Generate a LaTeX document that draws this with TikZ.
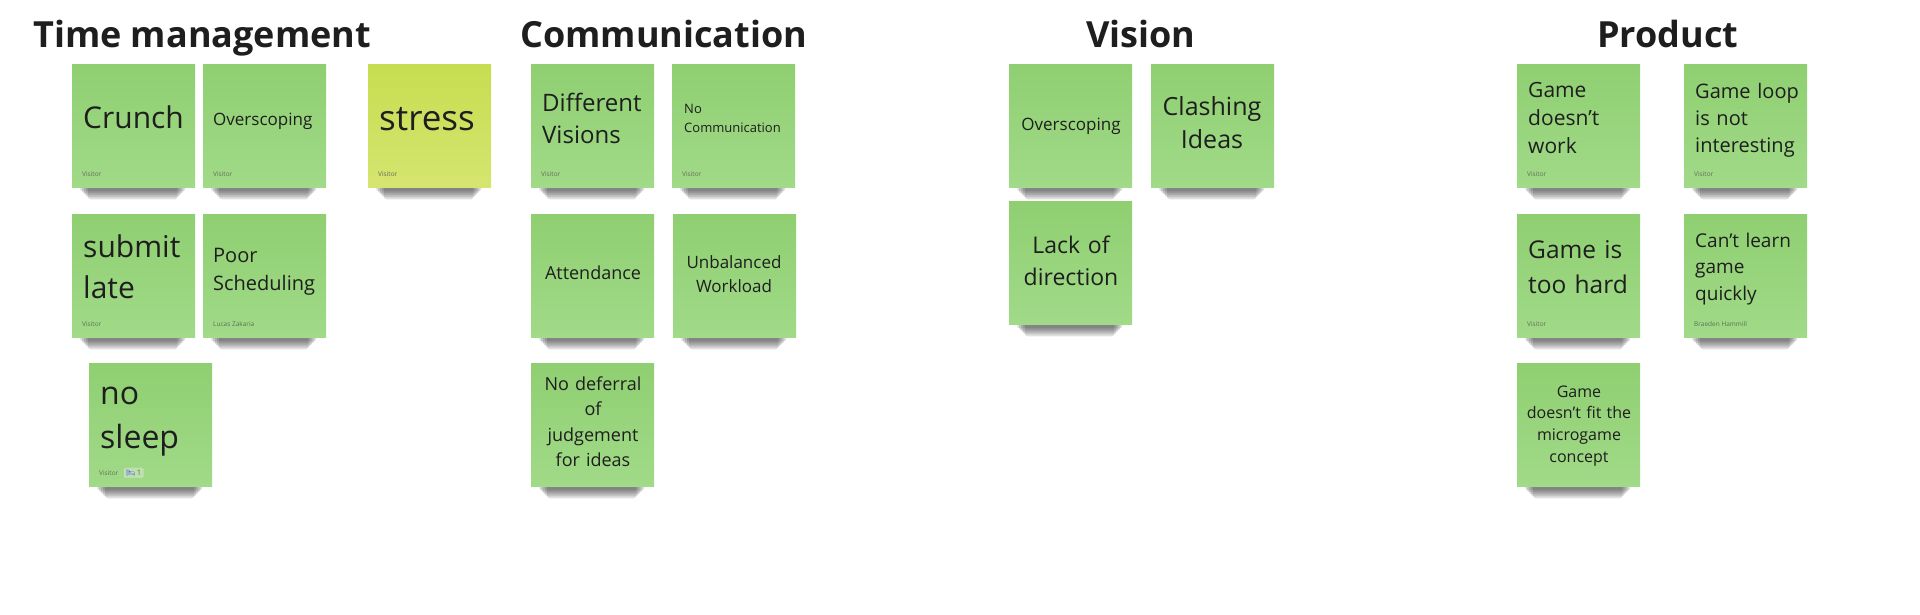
\documentclass[tikz,border=0pt]{standalone}
\usepackage{fontspec}
\setmainfont{Open Sans}
\newfontfamily\emojifont{Noto Emoji}
\usepackage{xcolor}
\usetikzlibrary{backgrounds}
\definecolor{notetop}{RGB}{143,207,113}
\definecolor{notebot}{RGB}{161,218,136}
\definecolor{stresstop}{RGB}{199,221,80}
\definecolor{stressbot}{RGB}{213,229,112}
\definecolor{inkc}{RGB}{30,30,30}
\definecolor{authc}{RGB}{95,110,85}
\newcommand\notefont[2]{\fontsize{#1}{#2}\selectfont}

\begin{document}
\begin{tikzpicture}[x=1pt,y=-1pt,
		note/.style={anchor=north west,minimum width=123pt,minimum height=123pt,inner sep=0pt,top color=notetop,bottom color=notebot},
		yellownote/.style={note,top color=stresstop,bottom color=stressbot},
		title/.style={anchor=base west,inner sep=0pt,font=\bfseries\notefont{36}{44},text=inkc},
		lefttxt/.style={anchor=base west,inner sep=0pt,text width=112pt,align=left,text=inkc},
		midtxt/.style={anchor=base,inner sep=0pt,text width=118pt,align=center,text=inkc},
		author/.style={anchor=base west,inner sep=0pt,font=\notefont{6.5}{8},text=authc}]
		\useasboundingbox (0,0) rectangle (1920,614);
		\node[title] (t-time) at (33,47) {Time management};
		\node[title] (t-comm) at (520,47) {Communication};
		\node[title] (t-vis) at (1086,47) {Vision};
		\node[title] (t-prod) at (1597,47) {Product};
		\foreach \n/\x/\y in {tm-1/72/64,tm-2/203/64,tm-4/72/214,tm-5/203/214,tm-6/89/363,
			co-1/531/64,co-2/672/64,co-3/531/214,co-4/673/214,co-5/531/363,
			vi-1/1009/64,vi-2/1151/64,vi-3/1009/201,
			pr-1/1517/64,pr-2/1684/64,pr-3/1517/214,pr-4/1684/214,pr-5/1517/363}
			\node[note] (\n) at (\x,\y) {};
		\node[yellownote] (tm-3) at (368,64) {};
		\node[lefttxt,font=\notefont{30}{41}] (tx-tm-1) at (83,128) {Crunch};
		\node[lefttxt,font=\notefont{17}{22}] (tx-tm-2) at (213,125) {Overscoping};
		\node[lefttxt,font=\notefont{35}{44}] (tx-tm-3) at (379,130) {stress};
		\node[lefttxt,font=\notefont{30}{41}] (tx-tm-4) at (83,257) {submit\\late};
		\node[lefttxt,font=\notefont{20}{28}] (tx-tm-5) at (213,262) {Poor\\Scheduling};
		\node[lefttxt,font=\notefont{32}{44}] (tx-tm-6) at (100,404) {no\\sleep};
		\node[lefttxt,font=\notefont{24}{32}] (tx-co-1) at (542,111) {Different\\Visions};
		\node[lefttxt,font=\notefont{13}{19}] (tx-co-2) at (684,113) {No\\Communication};
		\node[midtxt,font=\notefont{18}{24}] (tx-co-3) at (593,279) {Attendance};
		\node[midtxt,font=\notefont{17}{24}] (tx-co-4) at (734,268) {Unbalanced\\Workload};
		\node[midtxt,font=\notefont{18}{25.5}] (tx-co-5) at (593,390) {No deferral\\of\\judgement\\for ideas};
		\node[midtxt,font=\notefont{17}{22}] (tx-vi-1) at (1071,130) {Overscoping};
		\node[midtxt,font=\notefont{25}{33}] (tx-vi-2) at (1212,115) {Clashing\\Ideas};
		\node[midtxt,font=\notefont{23}{32}] (tx-vi-3) at (1071,253) {Lack of\\direction};
		\node[lefttxt,font=\notefont{21}{28}] (tx-pr-1) at (1528,97) {Game\\doesn't\\work};
		\node[lefttxt,font=\notefont{20}{27}] (tx-pr-2) at (1695,98) {Game loop\\is not\\interesting};
		\node[lefttxt,font=\notefont{24.5}{35}] (tx-pr-3) at (1528,258) {Game is\\too hard};
		\node[lefttxt,font=\notefont{19}{26.5}] (tx-pr-4) at (1695,247) {Can't learn\\game\\quickly};
		\node[midtxt,font=\notefont{16}{21.7}] (tx-pr-5) at (1579,397) {Game\\doesn't fit the\\microgame\\concept};
		\foreach \n in {tm-1,tm-2,tm-3,tm-4,tm-6,co-1,co-2,pr-1,pr-2,pr-3}
			\node[author] (by-\n) at ([xshift=10pt,yshift=11pt]\n.south west) {Visitor};
		\node[author] (by-tm-5) at ([xshift=10pt,yshift=11pt]tm-5.south west) {Lucas Zakaria};
		\node[author] (by-pr-4) at ([xshift=10pt,yshift=11pt]pr-4.south west) {Braeden Hammill};
		\node[author,font=\notefont{7.5}{9},draw=black!15,fill=notetop!60!white,rounded corners=1.5pt,inner sep=2pt,anchor=base west] (react) at ([xshift=35pt,yshift=11pt]tm-6.south west) {{\emojifont\textcolor{blue!70}{🛌}}\,1};
		\begin{scope}[on background layer]
			\fill[white] (0,0) rectangle (1920,614);
			\foreach \n in {tm-1,tm-2,tm-3,tm-4,tm-5,tm-6,co-1,co-2,co-3,co-4,co-5,vi-1,vi-2,vi-3,pr-1,pr-2,pr-3,pr-4,pr-5}
				\foreach \i in {1,...,5}
					\fill[black,opacity=0.12,rounded corners=3pt] ([xshift=6pt+2pt*\i,yshift=2pt]\n.south west) rectangle ([xshift=-8pt-2pt*\i,yshift=-2pt-2pt*\i]\n.south east);
		\end{scope}
	\end{tikzpicture}
\end{document}
